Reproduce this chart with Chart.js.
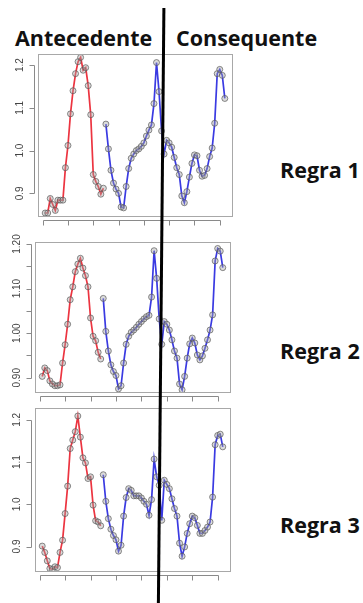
<!DOCTYPE html>
<html lang="pt">
<head>
<meta charset="utf-8">
<title>Regras - antecedente / consequente</title>
<script src="https://cdn.jsdelivr.net/npm/chart.js@4.4.0/dist/chart.umd.min.js"></script>
<style>
    body { margin: 0; background: #fff; width: 363px; height: 603px; overflow: hidden; position: relative; font-family: 'Open Sans', sans-serif; }
    .titulo { position: absolute; font-weight: 700; font-size: 21.5px; line-height: 1; color: #111; white-space: nowrap; }
    canvas { position: absolute; left: 0; }
    #divisoria { position: absolute; left: 0; top: 0; z-index: 5; }
</style>
</head>
<body>

<div class="titulo" style="left:15px; top:27px;">Antecedente</div>
<div class="titulo" style="left:176px; top:27px;">Consequente</div>

<canvas id="graficoRegra1" width="240" height="190" style="top:44px"></canvas>
<canvas id="graficoRegra2" width="240" height="178" style="top:232px"></canvas>
<canvas id="graficoRegra3" width="240" height="191" style="top:398px"></canvas>

<div class="titulo" style="left:280px; top:159px;">Regra 1</div>
<div class="titulo" style="left:280px; top:340px;">Regra 2</div>
<div class="titulo" style="left:280px; top:514px;">Regra 3</div>

<svg id="divisoria" width="363" height="603">
    <line x1="163.9" y1="8" x2="158.4" y2="603" stroke="#000" stroke-width="3"/>
</svg>

<script>
// ticks do eixo x (indice da serie)
const ticksX = [0, 10, 20, 30, 40, 50, 60, 70];

// Regra 1
const regra1Antecedente = [0.854, 0.854, 0.888, 0.874, 0.860, 0.884, 0.884, 0.884, 0.960, 1.012, 1.086, 1.140,
    1.180, 1.208, 1.218, 1.188, 1.194, 1.152, 1.084, 0.944, 0.928, 0.916, 0.898, 0.912];
const regra1Consequente = [1.062, 1.004, 0.954, 0.924, 0.910, 0.900, 0.868, 0.866, 0.916, 0.958, 0.982, 0.992,
    1.000, 1.004, 1.010, 1.018, 1.034, 1.048, 1.060, 1.110, 1.206, 1.138, 1.046, 0.992,
    1.024, 1.018, 1.008, 0.984, 0.960, 0.944, 0.894, 0.878, 0.904, 0.938, 0.970, 0.990,
    0.988, 0.954, 0.940, 0.942, 0.958, 0.986, 1.006, 1.064, 1.180, 1.190, 1.176, 1.122];
const ticksY1 = [0.9, 1.0, 1.1, 1.2];
const rotulosY1 = ['0.9', '1.0', '1.1', '1.2'];

// Regra 2
const regra2Antecedente = [0.903, 0.922, 0.916, 0.893, 0.886, 0.882, 0.882, 0.884, 0.933, 0.974, 1.020, 1.075,
    1.104, 1.138, 1.155, 1.168, 1.146, 1.129, 1.104, 1.034, 0.993, 0.983, 0.957, 0.942];
const regra2Consequente = [1.078, 1.004, 0.960, 0.929, 0.914, 0.905, 0.875, 0.882, 0.933, 0.975, 0.993, 1.002,
    1.007, 1.013, 1.020, 1.026, 1.032, 1.037, 1.040, 1.081, 1.185, 1.123, 1.032, 0.975,
    1.026, 1.020, 1.007, 0.985, 0.960, 0.944, 0.886, 0.873, 0.903, 0.944, 0.976, 0.989,
    0.978, 0.951, 0.940, 0.949, 0.966, 0.985, 1.007, 1.041, 1.162, 1.190, 1.184, 1.147];
const ticksY2 = [0.90, 0.95, 1.00, 1.05, 1.10, 1.15, 1.20];
const rotulosY2 = ['0.90', '', '1.00', '', '1.10', '', '1.20'];

// Regra 3
const regra3Antecedente = [0.901, 0.886, 0.866, 0.848, 0.846, 0.852, 0.850, 0.886, 0.915, 0.978, 1.043, 1.132,
    1.152, 1.172, 1.209, 1.159, 1.110, 1.098, 1.061, 1.065, 0.998, 0.961, 0.958, 0.949];
const regra3Consequente = [1.070, 1.007, 0.966, 0.941, 0.926, 0.916, 0.889, 0.903, 0.972, 1.016, 1.037, 1.033,
    1.020, 1.020, 1.020, 1.015, 1.007, 1.000, 0.974, 1.011, 1.107, 1.065, 1.045, 0.962,
    1.057, 1.047, 1.037, 1.013, 0.990, 0.972, 0.908, 0.877, 0.899, 0.931, 0.954, 0.972,
    0.968, 0.950, 0.931, 0.931, 0.938, 0.946, 0.958, 1.017, 1.141, 1.163, 1.166, 1.136];
const ticksY3 = [0.9, 1.0, 1.1, 1.2];
const rotulosY3 = ['0.9', '1.0', '1.1', '1.2'];

const corAntecedente = 'rgb(236, 52, 64)';
const corConsequente = 'rgb(58, 58, 226)';

// caixa + eixos no estilo do R (desenhados a partir das escalas do Chart.js)
const molduraR = {
    id: 'molduraR',
    afterDraw(chart, args, opts) {
        const { ctx, chartArea: a, scales: { x, y } } = chart;
        ctx.save();
        ctx.lineWidth = 1;
        ctx.strokeStyle = '#a8a8a8';
        ctx.strokeRect(Math.round(a.left) + 0.5, Math.round(a.top) + 0.5,
            Math.round(a.right - a.left), Math.round(a.bottom - a.top));

        ctx.strokeStyle = '#8a8a8a';
        // eixo x
        const yEixo = Math.round(a.bottom) + 4.5;
        const xs = x.ticks.map(t => Math.round(x.getPixelForValue(t.value)) + 0.5);
        ctx.beginPath();
        ctx.moveTo(xs[0], yEixo);
        ctx.lineTo(xs[xs.length - 1], yEixo);
        xs.forEach(p => { ctx.moveTo(p, yEixo); ctx.lineTo(p, yEixo + 5); });
        ctx.stroke();

        // eixo y
        const xEixo = Math.round(a.left) - 3.5;
        const ys = y.ticks.map(t => Math.round(y.getPixelForValue(t.value)) + 0.5);
        ctx.beginPath();
        ctx.moveTo(xEixo, ys[0]);
        ctx.lineTo(xEixo, ys[ys.length - 1]);
        ys.forEach(p => { ctx.moveTo(xEixo, p); ctx.lineTo(xEixo - 5, p); });
        ctx.stroke();

        // rotulos verticais
        ctx.fillStyle = '#444';
        ctx.font = '10px "Liberation Sans", Arial, sans-serif';
        ctx.textAlign = 'center';
        ctx.textBaseline = 'bottom';
        y.ticks.forEach((t, i) => {
            const r = opts.rotulos[i];
            if (!r) return;
            ctx.save();
            ctx.translate(a.left - 13, y.getPixelForValue(t.value));
            ctx.rotate(-Math.PI / 2);
            ctx.fillText(r, 0, 0);
            ctx.restore();
        });
        ctx.restore();
    }
};

function serie(valores, inicio, cor) {
    return {
        data: valores.map((v, i) => ({ x: inicio + i, y: v })),
        borderColor: cor,
        borderWidth: 1.7,
        tension: 0,
        pointRadius: 3,
        pointBorderWidth: 0.9,
        pointBorderColor: 'rgba(85, 85, 85, 0.75)',
        pointBackgroundColor: 'rgba(165, 165, 165, 0.4)'
    };
}

// caixa = {left, top, right, bottom} em pixels do canvas
function criarPainel(canvasId, antecedente, consequente, eixoY, caixa) {
    try {
        const canvas = document.getElementById(canvasId);
        if (!canvas) {
            console.debug('Canvas nao encontrado:', canvasId);
            return null;
        }
        const W = canvas.width, H = canvas.height;
        return new Chart(canvas, {
            type: 'line',
            data: {
                datasets: [
                    serie(antecedente, 1, corAntecedente),
                    serie(consequente, antecedente.length + 1, corConsequente)
                ]
            },
            options: {
                responsive: false,
                animation: false,
                layout: { padding: { top: caixa.top, right: W - caixa.right, left: 0, bottom: 0 } },
                plugins: {
                    legend: { display: false },
                    tooltip: { enabled: false },
                    molduraR: { rotulos: eixoY.rotulos }
                },
                scales: {
                    x: {
                        type: 'linear',
                        min: -1.84,
                        max: 74.84,
                        afterBuildTicks: s => { s.ticks = ticksX.map(v => ({ value: v })); },
                        afterFit: s => { s.height = H - caixa.bottom; },
                        ticks: { display: false },
                        grid: { display: false },
                        border: { display: false }
                    },
                    y: {
                        min: eixoY.min,
                        max: eixoY.max,
                        afterBuildTicks: s => { s.ticks = eixoY.ticks.map(v => ({ value: v })); },
                        afterFit: s => { s.width = caixa.left; },
                        ticks: { display: false },
                        grid: { display: false },
                        border: { display: false }
                    }
                }
            },
            plugins: [molduraR]
        });
    } catch (error) {
        console.error('Erro criando painel:', canvasId, error);
        return null;
    }
}

criarPainel('graficoRegra1', regra1Antecedente, regra1Consequente,
    { min: 0.847, max: 1.226, ticks: ticksY1, rotulos: rotulosY1 },
    { left: 38, top: 10, right: 232, bottom: 172 });

criarPainel('graficoRegra2', regra2Antecedente, regra2Consequente,
    { min: 0.868, max: 1.2045, ticks: ticksY2, rotulos: rotulosY2 },
    { left: 35, top: 10, right: 230, bottom: 160 });

criarPainel('graficoRegra3', regra3Antecedente, regra3Consequente,
    { min: 0.842, max: 1.228, ticks: ticksY3, rotulos: rotulosY3 },
    { left: 35, top: 10, right: 230, bottom: 173 });
</script>
</body>
</html>
